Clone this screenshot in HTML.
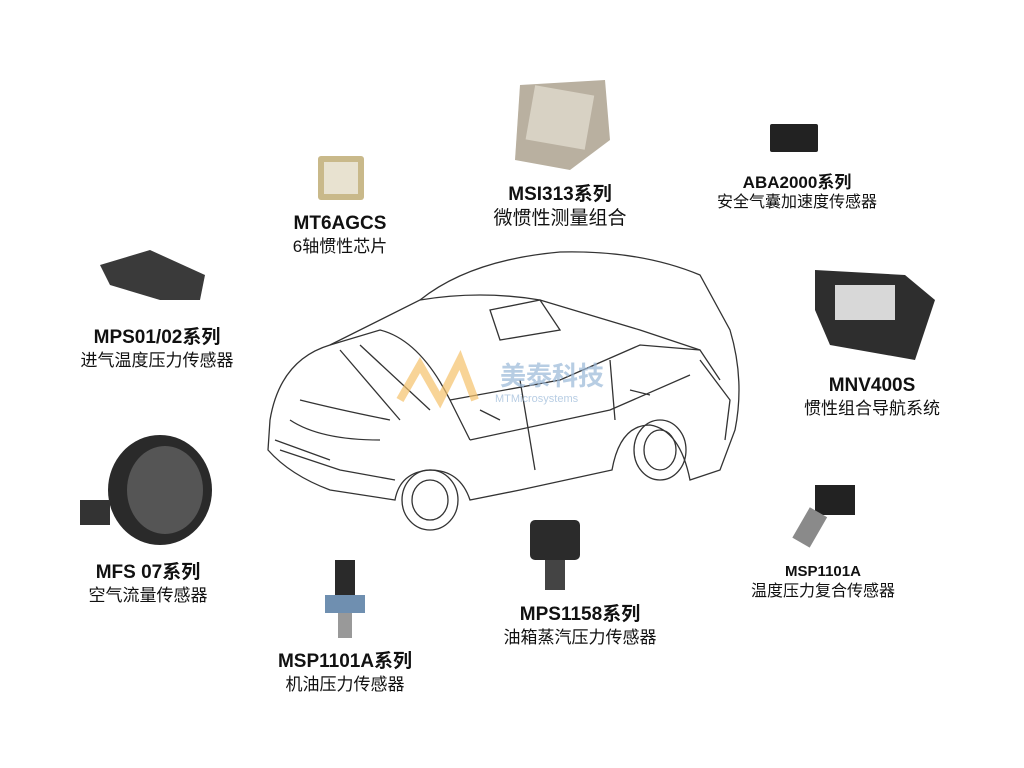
<!DOCTYPE html>
<html><head><meta charset="utf-8"><style>
html,body{margin:0;padding:0;background:#fff;}
#c{position:relative;width:1024px;height:768px;overflow:hidden;font-family:"Liberation Sans","Noto Sans CJK SC",sans-serif;color:#111;}
.l{position:absolute;text-align:center;white-space:nowrap;transform:translateX(-50%);line-height:1.25;}
.b{font-weight:bold;font-size:19px;}
.s{font-size:17px;}
svg{position:absolute;left:0;top:0;}
</style></head><body><div id="c">
<svg width="1024" height="768" viewBox="0 0 1024 768">
<g fill="none" stroke="#333" stroke-width="1.3">
<path d="M270 420 Q280 360 330 345 L420 300 Q470 260 560 252 Q640 250 700 275 L730 330 Q745 380 735 430 L720 470 L690 480 Q680 430 650 425 Q620 425 612 470 L520 490 L470 500 Q460 470 430 470 Q400 472 395 500 L330 490 Q290 475 268 450 Z"/>
<path d="M420 300 Q480 290 540 300 L640 330 L700 350"/>
<path d="M330 345 L380 330 Q420 340 450 400 L470 440"/>
<path d="M470 440 L610 410 L690 375"/>
<path d="M490 310 L540 300 L560 330 L500 340 Z"/>
<path d="M450 400 L560 380 L640 345 L700 350 L720 380"/>
<path d="M520 380 L535 470 M610 360 L615 420"/>
<path d="M290 420 Q320 440 380 440 M275 440 L330 460"/>
<path d="M340 350 L400 420 M360 345 L430 410 M300 400 Q340 410 390 420 M280 450 L340 470 L395 480"/>
<path d="M480 410 L500 420 M630 390 L650 395 M700 360 L730 400 L725 440"/>
<ellipse cx="430" cy="500" rx="28" ry="30"/><ellipse cx="430" cy="500" rx="18" ry="20"/>
<ellipse cx="660" cy="450" rx="26" ry="30"/><ellipse cx="660" cy="450" rx="16" ry="20"/>
</g>
<text x="500" y="385" font-size="26" font-weight="bold" fill="#9ab8d8" opacity=".7" font-family="Noto Sans CJK SC">美泰科技</text>
<text x="495" y="402" font-size="11" fill="#9ab8d8" opacity=".7" font-family="Liberation Sans">MTMicrosystems</text>
<path d="M400 400 L420 365 L440 400 L460 360 L475 400" fill="none" stroke="#f5c26b" stroke-width="8" opacity=".7"/>
<rect x="318" y="156" width="46" height="44" rx="3" fill="#c9b98a"/><rect x="324" y="162" width="34" height="32" fill="#e8e2d0"/>
<path d="M520 85 L605 80 L610 140 L570 170 L515 160 Z" fill="#b9b0a0"/><rect x="530" y="90" width="60" height="55" fill="#d8d2c4" transform="rotate(10 560 117)"/>
<rect x="770" y="124" width="48" height="28" rx="2" fill="#222"/>
<path d="M100 265 L150 250 L205 275 L200 300 L160 300 L110 285 Z" fill="#3a3a3a"/>
<path d="M815 270 L905 275 L935 300 L915 360 L830 345 L815 310 Z" fill="#2e2e2e"/><rect x="835" y="285" width="60" height="35" fill="#d8d8d8"/>
<ellipse cx="160" cy="490" rx="52" ry="55" fill="#2a2a2a"/><ellipse cx="165" cy="490" rx="38" ry="44" fill="#555"/><rect x="80" y="500" width="30" height="25" fill="#333"/>
<rect x="815" y="485" width="40" height="30" fill="#222"/><rect x="800" y="510" width="20" height="35" fill="#8a8a8a" transform="rotate(30 810 527)"/>
<rect x="530" y="520" width="50" height="40" rx="5" fill="#2b2b2b"/><rect x="545" y="560" width="20" height="30" fill="#444"/>
<rect x="335" y="560" width="20" height="35" fill="#2a2a2a"/><rect x="325" y="595" width="40" height="18" fill="#6f8fb0"/><rect x="338" y="613" width="14" height="25" fill="#999"/>
</svg>
<div class="l" style="left:340px;top:212px"><div class="b">MT6AGCS</div><div class="s">6轴惯性芯片</div></div>
<div class="l" style="left:560px;top:183px"><div class="b">MSI313系列</div><div class="s" style="font-size:19px">微惯性测量组合</div></div>
<div class="l" style="left:797px;top:172px"><div class="b" style="font-size:17px">ABA2000系列</div><div class="s" style="font-size:16px">安全气囊加速度传感器</div></div>
<div class="l" style="left:157px;top:326px"><div class="b">MPS01/02系列</div><div class="s">进气温度压力传感器</div></div>
<div class="l" style="left:872px;top:374px"><div class="b">MNV400S</div><div class="s">惯性组合导航系统</div></div>
<div class="l" style="left:148px;top:561px"><div class="b">MFS 07系列</div><div class="s">空气流量传感器</div></div>
<div class="l" style="left:823px;top:563px"><div class="b" style="font-size:15px">MSP1101A</div><div class="s" style="font-size:16px">温度压力复合传感器</div></div>
<div class="l" style="left:580px;top:603px"><div class="b">MPS1158系列</div><div class="s">油箱蒸汽压力传感器</div></div>
<div class="l" style="left:345px;top:650px"><div class="b">MSP1101A系列</div><div class="s">机油压力传感器</div></div>
</div></body></html>
